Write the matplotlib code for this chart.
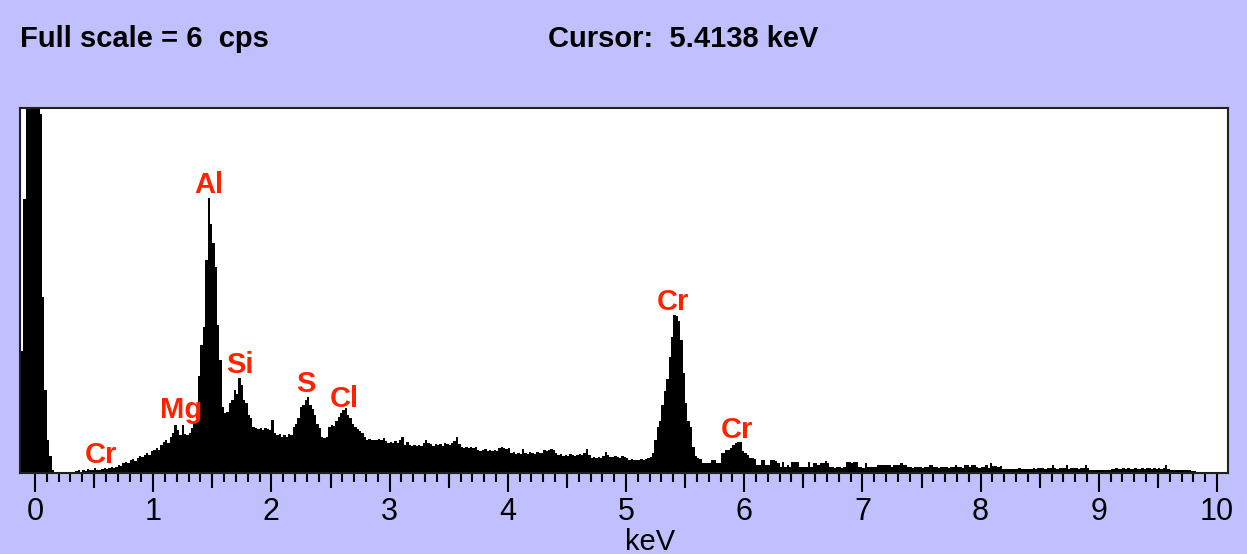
import matplotlib.pyplot as plt
import numpy as np

# EDS spectrum, 20 eV channels starting at -0.12 keV (cps)
chan_start = -0.12
chan_width = 0.02
cps = [
    2.0, 4.5, 9.0, 9.0, 9.0, 9.0, 9.0, 9.0, 5.9, 2.9,
    1.36, 0.54, 0.28, 0.05, 0, 0, 0, 0, 0, 0,
    0, 0, 0, 0.03, 0.05, 0.02, 0.05, 0.03, 0.07, 0.05,
    0.05, 0.08, 0.05, 0.05, 0.07, 0.08, 0.07, 0.08, 0.10, 0.08,
    0.10, 0.13, 0.12, 0.16, 0.18, 0.16, 0.21, 0.23, 0.20, 0.25,
    0.28, 0.26, 0.30, 0.33, 0.30, 0.36, 0.38, 0.41, 0.38, 0.46,
    0.51, 0.54, 0.49, 0.59, 0.66, 0.79, 0.70, 0.62, 0.79, 0.64,
    0.62, 0.66, 0.74, 0.82, 0.95, 1.60, 2.10, 2.40, 3.50, 4.52,
    4.10, 3.78, 3.39, 2.43, 1.86, 1.09, 0.99, 1.00, 1.15, 1.20,
    1.36, 1.30, 1.56, 1.45, 1.20, 1.15, 0.95, 0.90, 0.76, 0.74,
    0.72, 0.74, 0.70, 0.74, 0.72, 0.70, 0.87, 0.66, 0.62, 0.64,
    0.60, 0.62, 0.59, 0.64, 0.62, 0.76, 0.80, 0.90, 1.09, 1.12,
    1.20, 1.25, 1.12, 1.05, 0.95, 0.80, 0.74, 0.59, 0.57, 0.60,
    0.76, 0.79, 0.77, 0.85, 0.92, 0.98, 1.04, 1.07, 0.95, 0.90,
    0.80, 0.76, 0.72, 0.69, 0.66, 0.59, 0.54, 0.56, 0.54, 0.54,
    0.54, 0.56, 0.54, 0.57, 0.52, 0.49, 0.51, 0.49, 0.52, 0.49,
    0.54, 0.59, 0.46, 0.51, 0.46, 0.44, 0.46, 0.44, 0.46, 0.44,
    0.49, 0.54, 0.49, 0.48, 0.44, 0.48, 0.46, 0.48, 0.44, 0.49,
    0.48, 0.46, 0.49, 0.52, 0.59, 0.48, 0.43, 0.41, 0.43, 0.41,
    0.43, 0.41, 0.43, 0.38, 0.36, 0.38, 0.39, 0.36, 0.38, 0.36,
    0.38, 0.36, 0.41, 0.43, 0.41, 0.39, 0.41, 0.33, 0.34, 0.31,
    0.33, 0.31, 0.39, 0.33, 0.31, 0.34, 0.33, 0.31, 0.34, 0.33,
    0.33, 0.38, 0.36, 0.38, 0.39, 0.38, 0.33, 0.30, 0.31, 0.28,
    0.30, 0.28, 0.31, 0.30, 0.28, 0.30, 0.31, 0.30, 0.33, 0.39,
    0.30, 0.25, 0.26, 0.25, 0.26, 0.25, 0.28, 0.34, 0.30, 0.26,
    0.26, 0.28, 0.26, 0.25, 0.28, 0.26, 0.25, 0.21, 0.23, 0.21,
    0.21, 0.21, 0.23, 0.21, 0.23, 0.25, 0.26, 0.33, 0.54, 0.75,
    0.85, 1.12, 1.35, 1.55, 1.91, 2.24, 2.60, 2.58, 2.50, 2.19,
    1.64, 1.15, 0.85, 0.75, 0.43, 0.28, 0.25, 0.23, 0.16, 0.16,
    0.16, 0.16, 0.21, 0.21, 0.16, 0.16, 0.33, 0.33, 0.38, 0.38,
    0.41, 0.46, 0.49, 0.51, 0.51, 0.36, 0.33, 0.30, 0.25, 0.25,
    0.23, 0.13, 0.13, 0.21, 0.21, 0.13, 0.13, 0.21, 0.21, 0.20,
    0.16, 0.10, 0.18, 0.10, 0.13, 0.10, 0.18, 0.18, 0.18, 0.10,
    0.10, 0.10, 0.10, 0.18, 0.10, 0.16, 0.16, 0.13, 0.16, 0.16,
    0.20, 0.16, 0.10, 0.10, 0.08, 0.10, 0.10, 0.08, 0.10, 0.18,
    0.18, 0.16, 0.18, 0.18, 0.10, 0.10, 0.08, 0.16, 0.10, 0.10,
    0.10, 0.10, 0.13, 0.13, 0.13, 0.13, 0.13, 0.13, 0.10, 0.13,
    0.13, 0.13, 0.16, 0.13, 0.13, 0.10, 0.10, 0.08, 0.10, 0.10,
    0.10, 0.08, 0.10, 0.10, 0.13, 0.13, 0.10, 0.10, 0.08, 0.10,
    0.10, 0.10, 0.08, 0.10, 0.10, 0.13, 0.10, 0.10, 0.08, 0.13,
    0.13, 0.10, 0.13, 0.13, 0.10, 0.08, 0.10, 0.10, 0.13, 0.08,
    0.16, 0.11, 0.11, 0.10, 0.11, 0.07, 0.07, 0.07, 0.07, 0.07,
    0.07, 0.07, 0.08, 0.07, 0.07, 0.07, 0.07, 0.07, 0.08, 0.07,
    0.08, 0.08, 0.08, 0.07, 0.08, 0.08, 0.13, 0.08, 0.07, 0.08,
    0.08, 0.08, 0.13, 0.07, 0.08, 0.08, 0.08, 0.07, 0.08, 0.08,
    0.13, 0.08, 0.05, 0.05, 0.05, 0.05, 0.05, 0.05, 0.05, 0.05,
    0.05, 0.07, 0.07, 0.08, 0.07, 0.07, 0.08, 0.07, 0.08, 0.07,
    0.07, 0.08, 0.07, 0.07, 0.08, 0.07, 0.08, 0.08, 0.07, 0.08,
    0.07, 0.08, 0.07, 0.08, 0.13, 0.07, 0.05, 0.05, 0.05, 0.05,
    0.05, 0.05, 0.05, 0.05, 0.05, 0.03, 0.03, 0, 0, 0,
]

# peak labels: element, energy (keV), label baseline (cps)
elements = ['Cr', 'Mg', 'Al', 'Si', 'S', 'Cl', 'Cr', 'Cr']
label_x = [0.558, 1.235, 1.468, 1.730, 2.293, 2.614, 5.398, 5.935]
label_y = [0.164, 0.90, 4.60, 1.64, 1.33, 1.085, 2.68, 0.575]

full_scale = 6
cursor_kev = 5.4138

bg = '#C0C0FF'
red = '#FF2200'
plt.rcParams['font.family'] = ['Liberation Sans', 'DejaVu Sans']

fig = plt.figure(figsize=(12.47, 5.54), dpi=100, facecolor=bg)
W, H = 1247, 554
ax = fig.add_axes([20 / W, (H - 473) / H, 1208 / W, 365 / H])
ax.set_facecolor('white')

edges = chan_start + chan_width * np.arange(len(cps) + 1)
ax.stairs(cps, edges, fill=True, color='black', linewidth=0.8,
          antialiased=False)

ax.set_xlim(-0.127, 10.093)
ax.set_ylim(0, full_scale)

for name, x, y in zip(elements, label_x, label_y):
    ax.text(x, y, name, color=red, fontsize=21, fontweight='bold',
            ha='center', va='baseline')

# ticks: long at whole keV, short every 0.1 keV, medium at the halves
ax.set_yticks([])
ax.set_xticks(np.arange(0, 11))
ax.set_xticks([t / 10 for t in range(1, 100) if t % 10], minor=True)
ax.tick_params(axis='x', which='major', direction='out', length=14,
               width=1.5, pad=3, labelsize=22)
ax.tick_params(axis='x', which='minor', direction='out', length=6.5, width=1.5)
half = ax.secondary_xaxis('bottom')
half.set_xticks([k + 0.5 for k in range(10)])
half.set_xticklabels([])
half.tick_params(direction='out', length=10.8, width=1.5)
half.spines['bottom'].set_visible(False)

for s in ax.spines.values():
    s.set_linewidth(1.5)
    s.set_color('#202020')

ax.set_xlabel('keV', fontsize=21)
ax.xaxis.set_label_coords((650 - 20) / 1208, -0.15)

fig.text(20 / W, (H - 47) / H, f'Full scale = {full_scale}  cps', fontsize=21,
         fontweight='bold', va='baseline')
fig.text(548 / W, (H - 47) / H, f'Cursor:  {cursor_kev:.4f} keV', fontsize=21,
         fontweight='bold', va='baseline')

plt.savefig('out.png', dpi=100, facecolor=bg)
